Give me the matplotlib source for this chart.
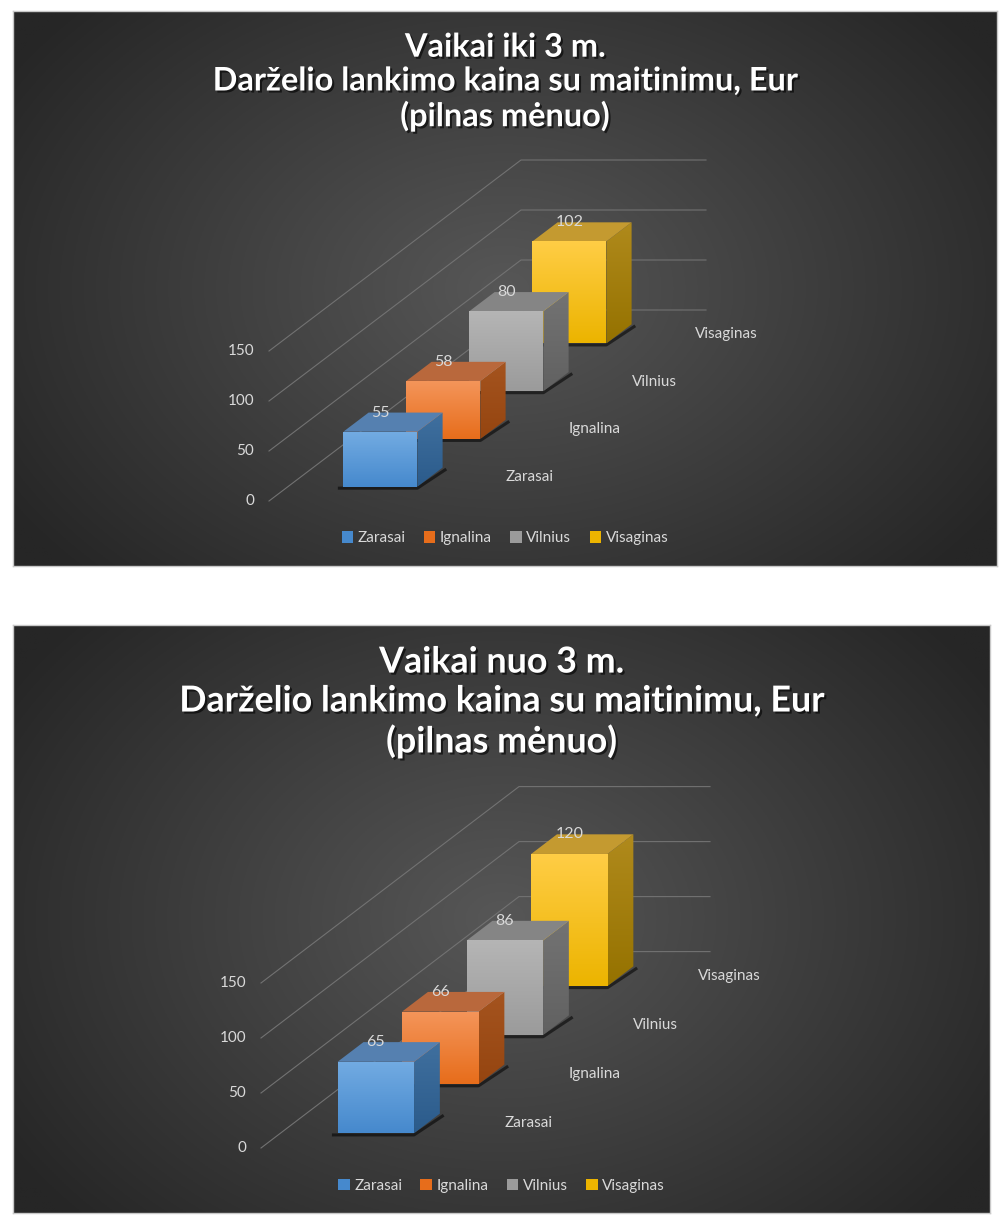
import numpy as np
import matplotlib.pyplot as plt
from matplotlib.patches import Polygon, Rectangle
from matplotlib import patheffects as pe

categories = ['Zarasai', 'Ignalina', 'Vilnius', 'Visaginas']
under3_prices = [55, 58, 80, 102]
over3_prices = [65, 66, 86, 120]
value_ticks = [0, 50, 100, 150]
title_under3 = 'Vaikai iki 3 m.\nDarželio lankimo kaina su maitinimu, Eur\n(pilnas mėnuo)'
title_over3 = 'Vaikai nuo 3 m.\nDarželio lankimo kaina su maitinimu, Eur\n(pilnas mėnuo)'

# face colours per series: front top / front bottom, side top / side bottom, top face
FRONT_TOP = ['#72abe2', '#f4955a', '#b5b5b5', '#ffcd45']
FRONT_BOT = ['#4689cd', '#e76d1b', '#9b9b9b', '#ecb400']
SIDE_TOP = ['#40709f', '#a5541f', '#737373', '#b08a1c']
SIDE_BOT = ['#2b5b8b', '#954510', '#616161', '#957200']
TOP_FACE = ['#5580b0', '#b9683c', '#858585', '#c49a30']
TEXT_COL = '#d9d9d9'

plt.rcParams['font.family'] = ['Lato', 'DejaVu Sans']

W, H = 1005, 1218
fig = plt.figure(figsize=(W / 100, H / 100), dpi=100)


def grad_poly(ax, pts, c_top, c_bot, z):
    poly = Polygon(pts, closed=True, facecolor='none', edgecolor='none', zorder=z)
    ax.add_patch(poly)
    xs = [p[0] for p in pts]
    ys = [p[1] for p in pts]
    ct = np.array(plt.matplotlib.colors.to_rgb(c_top))
    cb = np.array(plt.matplotlib.colors.to_rgb(c_bot))
    t = np.linspace(0, 1, 64)[:, None]
    img = (ct * (1 - t) + cb * t)[:, None, :]
    im = ax.imshow(img, extent=(min(xs), max(xs), min(ys), max(ys)), origin='upper',
                   aspect='auto', zorder=z, interpolation='bilinear')
    im.set_clip_path(poly)


def draw_chart(box, origin, ppv, cat_px, depth_px, values, title, title_size, title_ls,
               title_y, legend_y):
    left, top, right, bottom = box
    ox, oy = origin
    ax = fig.add_axes([left / W, 1 - bottom / H, (right - left) / W, (bottom - top) / H])
    xlim = ((left - ox) / cat_px, (right - ox) / cat_px)
    ylim = ((oy - bottom) / ppv, (oy - top) / ppv)
    dX = depth_px[0] / cat_px
    dY = depth_px[1] / ppv

    def proj(x, d, z):
        return (x + d * dX, z + d * dY)

    # radial background
    gy, gx = np.mgrid[0:1:300j, 0:1:500j]
    r = np.sqrt(((gx - 0.5) / 0.6) ** 2 + ((gy - 0.5) / 0.75) ** 2)
    r = np.clip(r, 0, 1)
    c_in = np.array([0x57, 0x57, 0x57]) / 255
    c_out = np.array([0x26, 0x26, 0x26]) / 255
    bg = c_in * (1 - r[..., None]) + c_out * r[..., None]
    ax.imshow(bg, extent=(xlim[0], xlim[1], ylim[0], ylim[1]), aspect='auto', zorder=0)

    n = len(values)
    # side wall and back wall gridlines
    for t in value_ticks:
        a = proj(0, 0, t)
        b = proj(0, n, t)
        c = proj(1, n, t)
        ax.plot([a[0], b[0], c[0]], [a[1], b[1], c[1]], color='#727272', lw=0.8, zorder=1)
        ax.text(a[0] - 15 / cat_px, a[1], str(t), ha='right', va='center',
                color=TEXT_COL, fontsize=11, zorder=5)

    # category labels along the depth axis
    for i, name in enumerate(categories):
        p = proj(1, i + 0.5, 0)
        ax.text(p[0] + 20 / cat_px, p[1], name, ha='left', va='center',
                color=TEXT_COL, fontsize=11, zorder=5)

    # bars, back to front
    x0, x1 = 0.3, 0.7
    for i in reversed(range(n)):
        v = values[i]
        d0, d1 = i + 0.3, i + 0.7
        z = 10 + (n - i) * 3
        sh = [proj(x0 - 0.03, d0, 0), proj(x1, d0, 0), proj(x1 + 0.02, d1, 0)]
        ax.plot([p[0] for p in sh], [p[1] - 1.5 for p in sh], color='black', alpha=0.55,
                lw=2.2, zorder=z - 1, solid_capstyle='butt')
        front = [proj(x0, d0, 0), proj(x1, d0, 0), proj(x1, d0, v), proj(x0, d0, v)]
        side = [proj(x1, d0, 0), proj(x1, d1, 0), proj(x1, d1, v), proj(x1, d0, v)]
        topf = [proj(x0, d0, v), proj(x1, d0, v), proj(x1, d1, v), proj(x0, d1, v)]
        grad_poly(ax, side, SIDE_TOP[i], SIDE_BOT[i], z)
        ax.add_patch(Polygon(topf, closed=True, facecolor=TOP_FACE[i], edgecolor='none', zorder=z))
        grad_poly(ax, front, FRONT_TOP[i], FRONT_BOT[i], z + 1)
        lx = proj((x0 + x1) / 2, d0, v)[0]
        ly = proj(x0, d1, v)[1]
        ax.text(lx, ly, str(v), ha='center', va='center', color=TEXT_COL,
                fontsize=11.5, zorder=40)

    ax.text(0.5, title_y, title, transform=ax.transAxes, ha='center', va='center',
            multialignment='center', fontsize=title_size, fontweight='bold', color='white',
            linespacing=title_ls, zorder=50,
            path_effects=[pe.withSimplePatchShadow(offset=(1.5, -1.5), shadow_rgbFace='black', alpha=0.6)])

    handles = [Rectangle((0, 0), 1, 1, facecolor=FRONT_BOT[i], edgecolor='none') for i in range(n)]
    leg = ax.legend(handles, categories, loc='center', bbox_to_anchor=(0.5, legend_y), ncol=n,
                    frameon=False, fontsize=11, handlelength=0.75, handleheight=0.75,
                    handletextpad=0.3, columnspacing=1.2, labelcolor=TEXT_COL)
    leg.set_zorder(60)

    ax.set_xlim(*xlim)
    ax.set_ylim(*ylim)
    ax.set_xticks([])
    ax.set_yticks([])
    for s in ax.spines.values():
        s.set_color('#c8c8c8')
        s.set_linewidth(1.0)
    return ax


draw_chart((13, 11, 997, 566), (269, 501), 1.0, 185, (63, 47.75), under3_prices,
           title_under3, 23.4, 1.2, 0.872, 0.05)
draw_chart((13, 625, 990, 1213), (261, 1148), 1.1, 191, (64.5, 49.1), over3_prices,
           title_over3, 25.8, 1.22, 0.869, 0.046)

fig.savefig('out.png', dpi=100, facecolor='white')
